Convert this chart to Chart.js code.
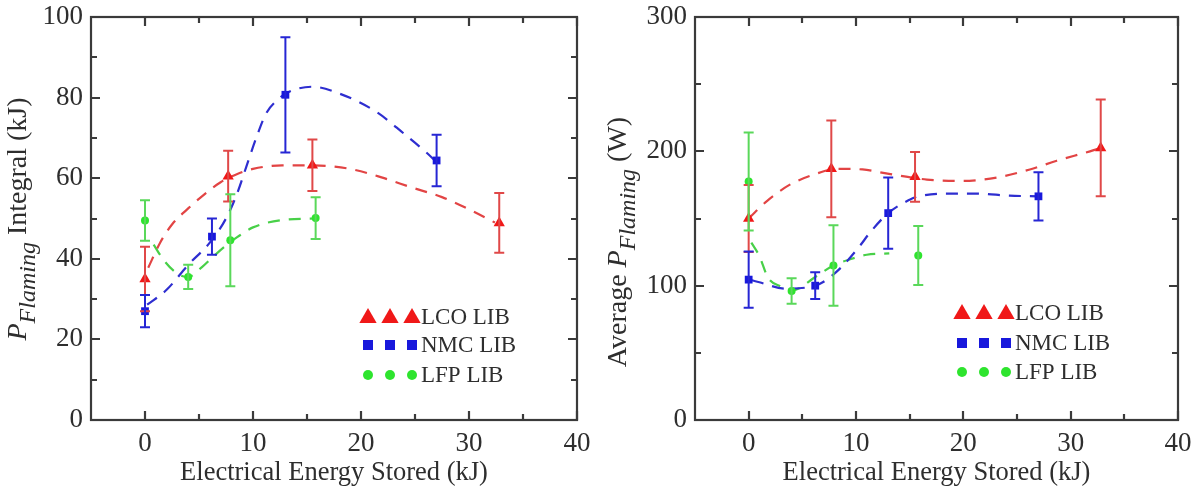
<!DOCTYPE html>
<html>
<head>
<meta charset="utf-8">
<title>Flaming power vs stored energy</title>
<script src="https://cdn.jsdelivr.net/npm/chart.js@4/dist/chart.umd.min.js"></script>
<style>
  html, body { margin: 0; padding: 0; background: #fff; }
  .row { display: flex; width: 1202px; height: 493px; }
  canvas { display: block; }
</style>
</head>
<body>
<div class="row">
  <canvas id="integralChart" width="601" height="493"></canvas>
  <canvas id="averageChart" width="601" height="493"></canvas>
</div>
<script>
// --- axis ticks ---
const X_TICKS = [0, 10, 20, 30, 40];
const X_MINOR = [5, 15, 25, 35];
const INT_TICKS = [0, 20, 40, 60, 80, 100];
const INT_MINOR = [10, 30, 50, 70, 90];
const AVG_TICKS = [0, 100, 200, 300];
const AVG_MINOR = [50, 150, 250];

// --- stored energy of each cell (kJ) ---
const LCO_E = [0, 7.7, 15.5, 32.8];
const NMC_E = [0, 6.2, 13, 27];
const LFP_E = [0, 4, 7.9, 15.8];

// --- flaming integral (kJ) with +/- error ---
const LCO_INT = [35, 60.5, 63.2, 48.9];
const LCO_INT_ERR = [8, 6.3, 6.4, 7.4];
const NMC_INT = [27, 45.5, 80.7, 64.4];
const NMC_INT_ERR = [4, 4.5, 14.3, 6.4];
const LFP_INT = [49.5, 35.5, 44.6, 50.1];
const LFP_INT_ERR = [5, 3, 11.4, 5.2];

// --- average flaming power (W) with +/- error ---
const LCO_AVG = [150, 187, 181, 202.5];
const LCO_AVG_ERR = [25, 36, 18.5, 36];
const NMC_AVG = [104.5, 100, 154, 166.5];
const NMC_AVG_ERR = [21, 10, 26.5, 18];
const LFP_AVG = [177.5, 96, 115, 122.5];
const LFP_AVG_ERR = [36.5, 9.5, 30, 22];

// --- dashed trend curves ---
const LCO_INT_FIT_X = [0.3, 1.4, 2.5, 4, 5.5, 7, 8.5, 10, 12.7, 15, 17, 19.2, 21.9, 24.7, 27.5, 30.2, 32.4];
const LCO_INT_FIT_Y = [37.8, 44, 48.5, 52.5, 56, 59, 61, 62.3, 63.2, 63.2, 63, 62.2, 60.2, 57.7, 55.3, 52, 49];
const NMC_INT_FIT_X = [0.2, 2, 4, 6, 7.5, 8.5, 9.4, 10.3, 11.2, 12.3, 13.4, 15.5, 18, 21.4, 24, 26, 27];
const NMC_INT_FIT_Y = [28.6, 32.3, 38.5, 44, 50, 56, 63, 70, 76, 79.5, 81.5, 82.7, 81, 76.5, 71, 66.5, 64];
const LFP_INT_FIT_X = [0.8, 1.7, 3, 4, 5.3, 6.3, 7.5, 8.5, 10, 13, 15.8];
const LFP_INT_FIT_Y = [43.5, 39.8, 36.3, 35.5, 38, 40.5, 43.3, 45.3, 47.8, 49.7, 50];

const LCO_AVG_FIT_X = [0, 1.7, 3.8, 6, 8.3, 10.6, 13.2, 16.6, 19.9, 23.1, 26.2, 28.7, 31.8, 32.8];
const LCO_AVG_FIT_Y = [150, 163, 175, 182.5, 187, 186.5, 183, 179, 178, 180.5, 186.5, 193, 200, 202.5];
const NMC_AVG_FIT_X = [0.3, 1, 3.5, 6.2, 6.9, 8.5, 10.3, 11.3, 13, 15, 15.6, 18.1, 21.2, 24.3, 27];
const NMC_AVG_FIT_Y = [104, 102.5, 97.7, 100, 102.5, 112.7, 129, 139.5, 154, 164, 166, 168.5, 168.5, 167, 166.5];
const LFP_AVG_FIT_X = [0.25, 1, 1.8, 2.9, 4.07, 6.3, 7.9, 9.4, 11, 13.1];
const LFP_AVG_FIT_Y = [132, 122, 106, 99.7, 96.5, 107, 115, 119.5, 123, 124];

const SERIES_NAMES = ['LCO LIB', 'NMC LIB', 'LFP LIB'];

const SERIF = '"Liberation Serif", "DejaVu Serif", serif';
const INK = '#2e2e2e';

const STYLES = [
    { marker: '#f01818', bar: '#e04848', line: '#e24444', shape: 'triangle', r: 6.5 },
    { marker: '#1818dc', bar: '#2626d4', line: '#2e2ed0', shape: 'rect', r: 5.5 },
    { marker: '#2ee42e', bar: '#5ad85a', line: '#48d048', shape: 'circle', r: 4 }
];

function zip(xs, ys) {
    return xs.map((x, i) => ({ x: x, y: ys[i] }));
}

function drawMarker(ctx, shape, x, y, r, color) {
    ctx.fillStyle = color;
    ctx.beginPath();
    if (shape === 'triangle') {
        const h = r * 1.5;
        const w = r * Math.sqrt(3) / 2;
        ctx.moveTo(x, y - r);
        ctx.lineTo(x + w, y - r + h);
        ctx.lineTo(x - w, y - r + h);
        ctx.closePath();
    } else if (shape === 'rect') {
        ctx.rect(x - r, y - r, r * 2, r * 2);
    } else {
        ctx.arc(x, y, r, 0, Math.PI * 2);
    }
    ctx.fill();
}

// frame, inward ticks, error bars, rotated y title and the inset legend
const panelDeco = {
    id: 'panelDeco',
    afterDatasetsDraw(chart, args, opts) {
        const ctx = chart.ctx;
        const area = chart.chartArea;
        const xs = chart.scales.x, ys = chart.scales.y;

        // error bars
        ctx.save();
        ctx.lineWidth = 2;
        chart.data.datasets.forEach(ds => {
            if (!ds.errors) return;
            ctx.strokeStyle = ds.barColor;
            ds.data.forEach((p, i) => {
                const e = ds.errors[i];
                const px = xs.getPixelForValue(p.x);
                const top = ys.getPixelForValue(p.y + e);
                const bot = ys.getPixelForValue(p.y - e);
                ctx.beginPath();
                ctx.moveTo(px, top); ctx.lineTo(px, bot);
                ctx.moveTo(px - 5, top); ctx.lineTo(px + 5, top);
                ctx.moveTo(px - 5, bot); ctx.lineTo(px + 5, bot);
                ctx.stroke();
            });
        });
        ctx.restore();

        // frame and ticks on all four sides
        ctx.save();
        ctx.strokeStyle = '#3a3a3a';
        ctx.lineWidth = 2.2;
        ctx.strokeRect(area.left, area.top, area.right - area.left, area.bottom - area.top);
        const tick = (vals, len) => {
            vals.forEach(v => {
                const px = Math.round(xs.getPixelForValue(v));
                ctx.beginPath();
                ctx.moveTo(px, area.bottom); ctx.lineTo(px, area.bottom - len);
                ctx.moveTo(px, area.top); ctx.lineTo(px, area.top + len);
                ctx.stroke();
            });
        };
        const tickY = (vals, len) => {
            vals.forEach(v => {
                const py = Math.round(ys.getPixelForValue(v));
                ctx.beginPath();
                ctx.moveTo(area.left, py); ctx.lineTo(area.left + len, py);
                ctx.moveTo(area.right, py); ctx.lineTo(area.right - len, py);
                ctx.stroke();
            });
        };
        tick(X_TICKS, 9);
        tick(X_MINOR, 6);
        tickY(opts.yMajor, 9);
        tickY(opts.yMinor, 6);
        ctx.restore();

        // y title with italic subscript
        ctx.save();
        ctx.translate(opts.titleX, opts.titleY);
        ctx.rotate(-Math.PI / 2);
        ctx.fillStyle = INK;
        ctx.textBaseline = 'alphabetic';
        let total = 0;
        opts.titleParts.forEach(part => {
            ctx.font = part.font;
            total += ctx.measureText(part.text).width;
        });
        let cx = -total / 2;
        opts.titleParts.forEach(part => {
            ctx.font = part.font;
            ctx.fillText(part.text, cx, part.dy || 0);
            cx += ctx.measureText(part.text).width;
        });
        ctx.restore();

        // legend with three markers per entry
        ctx.save();
        ctx.font = '23px ' + SERIF;
        ctx.textBaseline = 'middle';
        SERIES_NAMES.forEach((name, i) => {
            const st = STYLES[i];
            const y = area.top + opts.legendRows[i];
            const x0 = area.right - opts.legendRight;
            const big = st.shape === 'triangle' ? 10 : 5;
            for (let k = 0; k < 3; k++) {
                drawMarker(ctx, st.shape, x0 + k * 22, y + (st.shape === 'triangle' ? 1 : 0), big, st.marker);
            }
            ctx.fillStyle = INK;
            ctx.fillText(name, x0 + 2 * 22 + 9, y + 1);
        });
        ctx.restore();
    }
};

function buildPanel(canvasId, cfg) {
    const datasets = [];
    cfg.series.forEach((s, i) => {
        const st = STYLES[i];
        datasets.push({
            label: SERIES_NAMES[i] + ' fit',
            data: zip(s.fitX, s.fitY),
            showLine: true,
            borderColor: st.line,
            borderWidth: 2.2,
            borderDash: [12, 9],
            pointRadius: 0,
            cubicInterpolationMode: 'monotone',
            order: 2
        });
    });
    cfg.series.forEach((s, i) => {
        const st = STYLES[i];
        datasets.push({
            label: SERIES_NAMES[i],
            data: zip(s.x, s.y),
            errors: s.err,
            barColor: st.bar,
            pointStyle: st.shape,
            pointRadius: st.r,
            backgroundColor: st.marker,
            borderColor: st.marker,
            borderWidth: 0,
            order: 1
        });
    });

    return new Chart(document.getElementById(canvasId), {
        type: 'scatter',
        data: { datasets },
        options: {
            responsive: false,
            animation: false,
            events: [],
            layout: { padding: { left: 0, top: 17, right: 24, bottom: 0 } },
            scales: {
                x: {
                    type: 'linear',
                    min: -5,
                    max: 40,
                    afterBuildTicks: s => { s.ticks = X_TICKS.map(v => ({ value: v })); },
                    afterFit: s => { s.height = 73; },
                    grid: { display: false },
                    border: { display: false },
                    ticks: { color: INK, font: { family: SERIF, size: 27 }, padding: 0, maxRotation: 0 },
                    title: {
                        display: true,
                        text: 'Electrical Energy Stored (kJ)',
                        color: INK,
                        font: { family: SERIF, size: 26.5 },
                        padding: { top: 0, bottom: 4 }
                    }
                },
                y: {
                    type: 'linear',
                    min: 0,
                    max: cfg.yMax,
                    afterBuildTicks: s => { s.ticks = cfg.yTicks.map(v => ({ value: v })); },
                    afterFit: s => { s.width = cfg.yWidth; },
                    grid: { display: false },
                    border: { display: false },
                    ticks: { color: INK, font: { family: SERIF, size: 27 }, padding: 0 }
                }
            },
            plugins: {
                legend: { display: false },
                tooltip: { enabled: false },
                panelDeco: {
                    yMajor: cfg.yTicks,
                    yMinor: cfg.yMinor,
                    titleParts: cfg.titleParts,
                    titleX: cfg.titleX,
                    titleY: cfg.titleY,
                    legendRows: cfg.legendRows,
                    legendRight: cfg.legendRight
                }
            }
        },
        plugins: [panelDeco]
    });
}

const MAIN = '28px ' + SERIF;
const ITAL = 'italic 28px ' + SERIF;
const SUB = 'italic 24px ' + SERIF;

buildPanel('integralChart', {
    yMax: 100,
    yTicks: INT_TICKS,
    yMinor: INT_MINOR,
    yWidth: 91,
    series: [
        { x: LCO_E, y: LCO_INT, err: LCO_INT_ERR, fitX: LCO_INT_FIT_X, fitY: LCO_INT_FIT_Y },
        { x: NMC_E, y: NMC_INT, err: NMC_INT_ERR, fitX: NMC_INT_FIT_X, fitY: NMC_INT_FIT_Y },
        { x: LFP_E, y: LFP_INT, err: LFP_INT_ERR, fitX: LFP_INT_FIT_X, fitY: LFP_INT_FIT_Y }
    ],
    titleParts: [
        { text: 'P', font: ITAL },
        { text: 'Flaming', font: SUB, dy: 9 },
        { text: ' Integral (kJ)', font: MAIN }
    ],
    titleX: 26,
    titleY: 219,
    legendRows: [300, 328, 358],
    legendRight: 209
});

buildPanel('averageChart', {
    yMax: 300,
    yTicks: AVG_TICKS,
    yMinor: AVG_MINOR,
    yWidth: 94,
    series: [
        { x: LCO_E, y: LCO_AVG, err: LCO_AVG_ERR, fitX: LCO_AVG_FIT_X, fitY: LCO_AVG_FIT_Y },
        { x: NMC_E, y: NMC_AVG, err: NMC_AVG_ERR, fitX: NMC_AVG_FIT_X, fitY: NMC_AVG_FIT_Y },
        { x: LFP_E, y: LFP_AVG, err: LFP_AVG_ERR, fitX: LFP_AVG_FIT_X, fitY: LFP_AVG_FIT_Y }
    ],
    titleParts: [
        { text: 'Average ', font: MAIN },
        { text: 'P', font: ITAL },
        { text: 'Flaming', font: SUB, dy: 9 },
        { text: ' (W)', font: MAIN }
    ],
    titleX: 25,
    titleY: 242,
    legendRows: [296, 326, 355],
    legendRight: 216
});
</script>
</body>
</html>
